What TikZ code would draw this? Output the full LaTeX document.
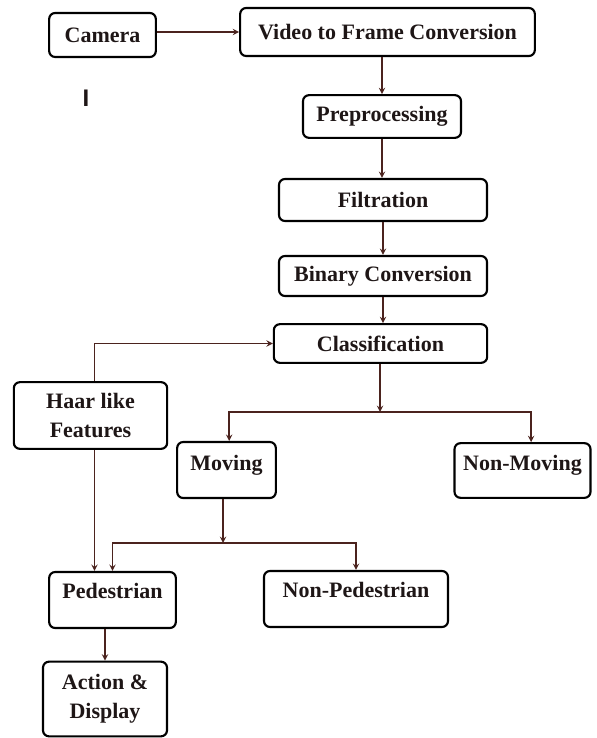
\documentclass[tikz,border=0pt]{standalone}
\usepackage{fontspec}
\setmainfont{Liberation Serif}
\newfontfamily\strayfont{Liberation Sans}
\definecolor{linebrown}{RGB}{75,35,30}
\definecolor{textdark}{RGB}{30,22,22}
\begin{document}
\begin{tikzpicture}
[x=0.75pt,y=-0.75pt,
  boxdecorate/.style={shape=rectangle,rounded corners=4.5pt,draw=black,line width=1.6pt,
    inner sep=2pt,align=center,text=textdark,
    font=\fontsize{16.5}{22}\selectfont\bfseries},%
  uptext/.style={text depth=#1},%
  arrowdecorate/.style={->,>=stealth,line width=1.1pt,draw=linebrown}]
\useasboundingbox (0,0) rectangle (596,738);
% nodes or boxes
\node (camera) at (102.5,35) [boxdecorate,minimum width=80pt,minimum height=33pt] {Camera};
\node (video) at (387.5,32) [boxdecorate,minimum width=221pt,minimum height=36pt] {Video to Frame Conversion};
\node (stray) at (86,98) [text=textdark,font=\fontsize{18}{20}\strayfont\bfseries] {I};
\node (preproc) at (382,116.5) [boxdecorate,minimum width=118.5pt,minimum height=32pt] {Preprocessing};
\node (filter) at (383,200) [boxdecorate,minimum width=156pt,minimum height=31.5pt] {Filtration};
\node (binary) at (383,276) [boxdecorate,minimum width=156pt,minimum height=30pt] {Binary Conversion};
\node (classify) at (380.5,343.5) [boxdecorate,minimum width=160pt,minimum height=29pt] {Classification};
\node (haar) at (90.5,415.5) [boxdecorate,minimum width=115pt,minimum height=50pt] {Haar like\\Features};
\node (moving) at (226.5,470) [boxdecorate,uptext=11pt,minimum width=74pt,minimum height=42pt] {Moving};
\node (nonmoving) at (522.5,470.5) [boxdecorate,uptext=11pt,minimum width=102pt,minimum height=41pt] {Non-Moving};
\node (pedestrian) at (112.5,600) [boxdecorate,uptext=14pt,minimum width=95pt,minimum height=42pt] {Pedestrian};
\node (nonped) at (356,599) [boxdecorate,uptext=14pt,minimum width=138pt,minimum height=42pt] {Non-Pedestrian};
\node (action) at (105,699) [boxdecorate,minimum width=93pt,minimum height=56pt] {Action \&\\Display};
% branch points
\coordinate (split1) at (380,412);
\coordinate (split2) at (223,543);
% edges or lines
\draw[arrowdecorate] (camera.east |- video.west) -- (video.west);
\draw[arrowdecorate] (preproc.north |- video.south) -- (preproc.north);
\draw[arrowdecorate] (preproc.south) -- (preproc.south |- filter.north);
\draw[arrowdecorate] (binary.north |- filter.south) -- (binary.north);
\draw[arrowdecorate] (binary.south) -- (binary.south |- classify.north);
\draw[arrowdecorate] ([xshift=3pt]haar.north) |- (classify.west);
\draw[arrowdecorate] (classify.south -| split1) -- (split1);
\draw[arrowdecorate] (split1) -| ([xshift=2pt]moving.north);
\draw[arrowdecorate] (split1) -| ([xshift=6.5pt]nonmoving.north);
\draw[arrowdecorate] (moving.south -| split2) -- (split2);
\draw[arrowdecorate] (split2) -| (pedestrian.north);
\draw[arrowdecorate] (split2) -| (nonped.north);
\draw[arrowdecorate] ([xshift=3pt]haar.south) -- ([xshift=3pt]haar.south |- pedestrian.north);
\draw[arrowdecorate] (action.north |- pedestrian.south) -- (action.north);
\end{tikzpicture}
\end{document}
